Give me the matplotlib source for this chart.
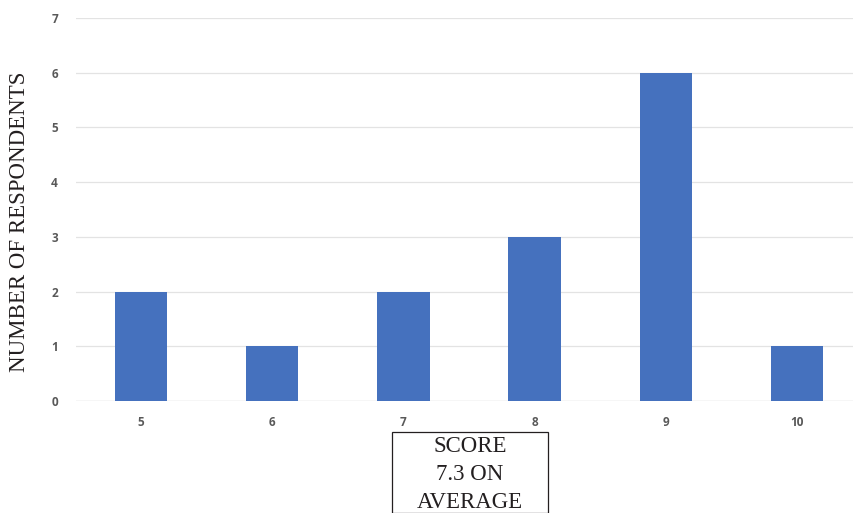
import matplotlib
matplotlib.use("Agg")
import matplotlib.pyplot as plt
from matplotlib.patches import Rectangle

scores = ["5", "6", "7", "8", "9", "10"]
respondents = [2, 1, 2, 3, 6, 1]
y_ticks = [0, 1, 2, 3, 4, 5, 6, 7]

W, H = 854, 513
fig = plt.figure(figsize=(W / 100, H / 100), dpi=100)

# axes placement in pixels: left 76, right 854, bottom 401, top 18
left, right, bottom, top = 76, 854, 401, 18
ax = fig.add_axes([left / W, 1 - bottom / H, (right - left) / W, (bottom - top) / H])

x = list(range(len(scores)))
ax.bar(x, respondents, width=0.4, color="#4571BE", zorder=3)

ax.set_xlim(-0.495, 5.434)
ax.set_ylim(0, 7)
ax.set_yticks(y_ticks)
ax.set_xticks(x)
ax.set_xticklabels(scores)

tick_font = dict(family="Open Sans", fontsize=8.5, fontweight="bold", color="#595959")
for lbl in ax.get_xticklabels() + ax.get_yticklabels():
    lbl.set(**tick_font)

ax.tick_params(axis="both", length=0)
ax.tick_params(axis="x", pad=11)
ax.tick_params(axis="y", pad=13)

ax.grid(axis="y", color="#E3E3E3", linewidth=0.9, zorder=0)
for s in ax.spines.values():
    s.set_visible(False)
ax.axhline(0, color="#D9D9D9", linewidth=0.9, zorder=2)

fig.text(20 / W, 1 - 222 / H, "NUMBER OF RESPONDENTS", rotation=90,
         ha="center", va="center", family="Liberation Serif", fontsize=16.5, color="#231F20")

# summary box below the axis
fig.add_artist(Rectangle((392 / W, 0), (548 - 392) / W, (513 - 432) / H,
                         transform=fig.transFigure, fill=False,
                         edgecolor="#231F20", linewidth=0.9))
for txt, yy in [("SCORE", 446), ("7.3 ON", 475), ("AVERAGE", 502)]:
    fig.text(470 / W, 1 - yy / H, txt, ha="center", va="center",
             family="Liberation Serif", fontsize=16.5, color="#231F20")

fig.savefig("out.png", dpi=100)
